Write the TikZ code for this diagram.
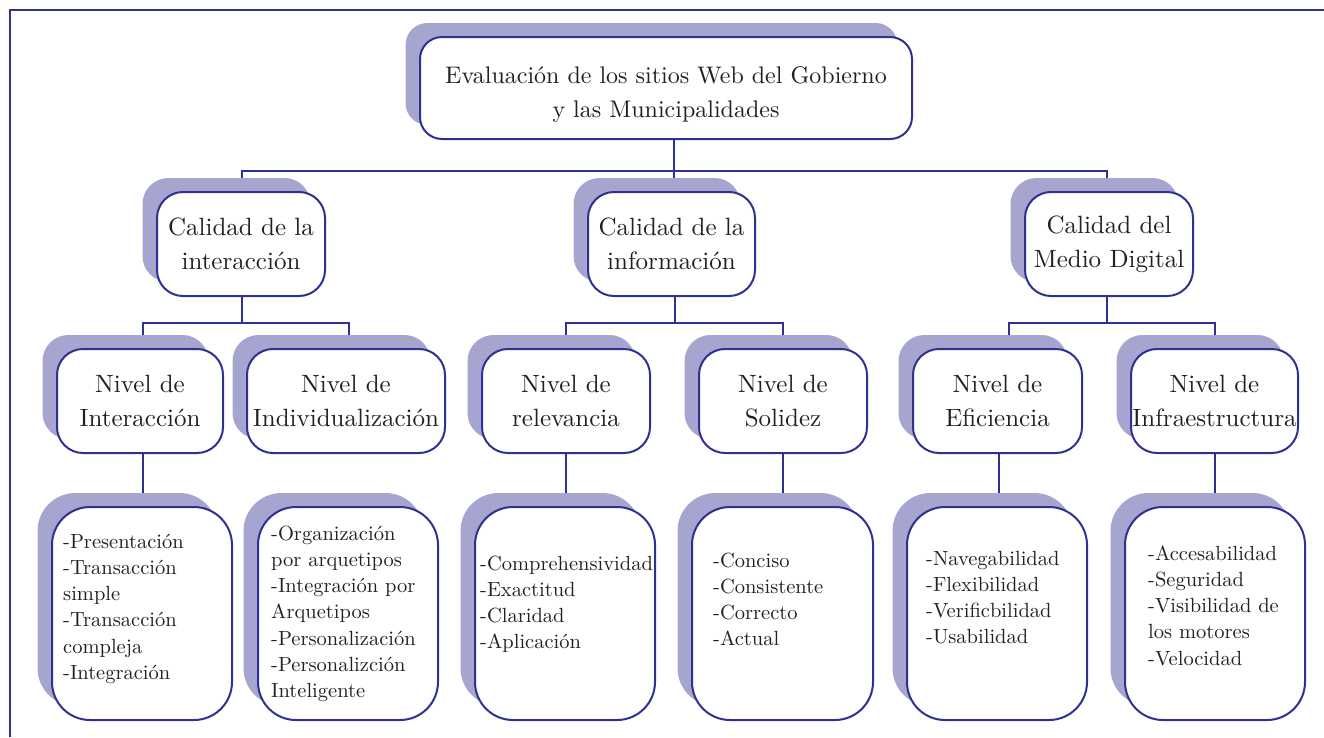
\documentclass[tikz,border=0pt]{standalone}
\usepackage{fontspec}
\setmainfont{lmroman10-regular.otf}
\usetikzlibrary{shadows,backgrounds}
\definecolor{frameblue}{RGB}{46,49,146}
\definecolor{lav}{RGB}{165,165,208}
\definecolor{ink}{RGB}{35,31,32}
\begin{document}
\begin{tikzpicture}[x=1pt,y=-1pt,
  box/.style={draw=frameblue, line width=2pt, fill=white, inner sep=0pt, align=center, text=ink,
    general shadow={fill=lav, shadow xshift=-14.5pt, shadow yshift=14pt}},
  topbox/.style={box, rounded corners=22pt, minimum width=492pt, minimum height=102pt},
  toptext/.style={align=center, inner sep=0pt, text=ink, font=\fontsize{24}{34}\selectfont},
  midbox/.style={box, rounded corners=26pt, minimum height=104pt, font=\fontsize{25}{34}\selectfont},
  leafbox/.style={box, rounded corners=38pt, minimum width=180pt, minimum height=213pt},
  leaftext/.style={anchor=base west, inner sep=0pt, text width=185pt, align=left, text=ink, font=\fontsize{20.5}{26.3}\selectfont},
  conn/.style={draw=frameblue, line width=2pt}]
\useasboundingbox (0,0) rectangle (1324,737);
% frame
\draw[frameblue, line width=2.5pt] (10,737) -- (10,10) -- (1324,10);
% top
\node[topbox] (top) at (666,88) {};
\node[toptext] (toptitle) at (666,94) {Evaluación de los sitios Web del Gobierno\\y las Municipalidades};
% level 2
\node[midbox, minimum width=168pt] (ca) at (241,244) {Calidad de la\\interacción};
\node[midbox, minimum width=167pt] (cb) at (671.5,244) {Calidad de la\\información};
\node[midbox, minimum width=168pt] (cc) at (1109,244) {Calidad del\\Medio Digital};
% level 3
\node[midbox, minimum width=166pt] (na) at (140,401) {Nivel de\\Interacción};
\node[midbox, minimum width=198pt] (nb) at (346,401) {Nivel de\\Individualización};
\node[midbox, minimum width=168pt] (nc) at (566,401) {Nivel de\\relevancia};
\node[midbox, minimum width=168pt] (nd) at (783,401) {Nivel de\\Solidez};
\node[midbox, minimum width=169pt] (ne) at (997.5,401) {Nivel de\\Eficiencia};
\node[midbox, minimum width=167pt] (nf) at (1214.5,401) {Nivel de\\Infraestructura};
% leaves
\node[leafbox] (la) at (142,613.5) {};
\node[leafbox] (lb) at (348,613.5) {};
\node[leafbox] (lc) at (565,613.5) {};
\node[leafbox, minimum width=181pt] (ld) at (782.5,613.5) {};
\node[leafbox] (le) at (997,613.5) {};
\node[leafbox] (lf) at (1215,613.5) {};
\node[leaftext] (ta) at (63,548) {-Presentación\\-Transacción\\simple\\-Transacción\\compleja\\-Integración};
\node[leaftext] (tb) at (271,540) {-Organización\\por arquetipos\\-Integración por\\Arquetipos\\-Personalización\\-Personalizción\\Inteligente};
\node[leaftext] (tc) at (480,570) {-Comprehensividad\\-Exactitud\\-Claridad\\-Aplicación};
\node[leaftext] (td) at (713,567) {-Conciso\\-Consistente\\-Correcto\\-Actual};
\node[leaftext] (te) at (926,565) {-Navegabilidad\\-Flexibilidad\\-Verificbilidad\\-Usabilidad};
\node[leaftext] (tf) at (1148,560) {-Accesabilidad\\-Seguridad\\-Visibilidad de\\los motores\\-Velocidad};
% connectors
\coordinate (j0) at (674,171);
\coordinate (j1) at (242,323);
\coordinate (j2) at (675,323);
\coordinate (j3) at (1107,323);
\begin{scope}[on background layer]
\draw[conn] (top.south -| j0) -- (j0);
\draw[conn] ([xshift=1pt]ca.north) |- (j0) -| ([xshift=-2pt]cc.north);
\draw[conn] (j0) -- (j0 |- cb.north);
\draw[conn] (ca.south -| j1) -- (j1);
\draw[conn] ([xshift=3pt]na.north) |- (j1) -| ([xshift=3pt]nb.north);
\draw[conn] (cb.south -| j2) -- (j2);
\draw[conn] (nc.north) |- (j2) -| (nd.north);
\draw[conn] (cc.south -| j3) -- (j3);
\draw[conn] ([xshift=11.5pt]ne.north) |- (j3) -| (nf.north);
\draw[conn] ([xshift=3pt]na.south) -- ([xshift=3pt]na.south |- la.north);
\draw[conn] (nc.south) -- (nc.south |- lc.north);
\draw[conn] (nd.south) -- (nd.south |- ld.north);
\draw[conn] ([xshift=1.5pt]ne.south) -- ([xshift=1.5pt]ne.south |- le.north);
\draw[conn] (nf.south) -- (nf.south |- lf.north);
\end{scope}
\end{tikzpicture}
\end{document}
